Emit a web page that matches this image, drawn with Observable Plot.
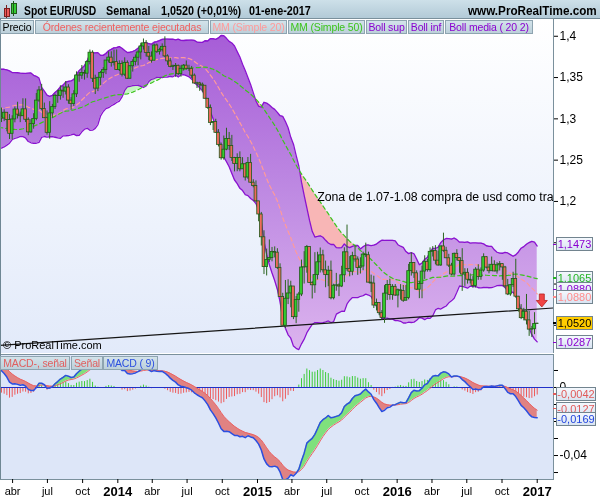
<!DOCTYPE html>
<html><head><meta charset="utf-8">
<script src="https://cdn.jsdelivr.net/npm/d3@7"></script>
<script src="https://cdn.jsdelivr.net/npm/@observablehq/plot@0.6"></script>
<style>
body{margin:0;background:#fff;font-family:"Liberation Sans",Arial,sans-serif;}
#wrap{position:relative;width:600px;height:500px;overflow:hidden;background:#fff;}
.abs{position:absolute;}
.lg{position:absolute;box-sizing:border-box;height:14px;line-height:12px;font-size:10.5px;letter-spacing:-0.15px;padding:0;white-space:nowrap;
 text-align:center;overflow:hidden;background:linear-gradient(#d3e3ea,#bcd0da);border:1px solid #8ea4b0;}
.vl{position:absolute;left:556px;height:12px;line-height:12px;font-size:11px;text-align:center;
 background:linear-gradient(#f4f8fd,#d9e4f2);border:1px solid #72848f;}
.vt{position:absolute;left:553px;width:4px;height:1.5px;}
.hd{position:absolute;top:4px;font-size:12px;font-weight:bold;line-height:14px;color:#000;white-space:nowrap;
 transform:scaleX(0.87);transform-origin:left center;}
</style></head>
<body><div id="wrap"></div>
<script>
// ---------- DATA ----------
// weekly closes before the visible window (from 2012-01-01), used only to seed indicators
const warmupCloses = [1.2718,1.2681,1.3035,1.3218,1.3159,
 1.3194,1.3154,1.3449,1.3225, 1.3118,1.3082,1.3272,1.3343,
 1.3138,1.3078,1.3227,1.3236,1.3081, 1.2916,1.2778,1.2516,1.2434,
 1.2631,1.2640,1.2573,1.2667, 1.2290,1.2247,1.2156,1.2317,1.2386,
 1.2287,1.2331,1.2516,1.2576, 1.2816,1.3124,1.2977,1.2856,1.3037,
 1.2953,1.3020,1.2943,1.2834, 1.2712,1.2749,1.2975,1.2986,
 1.2926,1.3163,1.3184,1.3216,1.3068, 1.3364,1.3316,1.3457,1.3635,
 1.3365,1.3364,1.3191,1.3017];
// visible weekly candles, from week of 2013-03-03 to week of 2017-01-01
const closes = [
 1.3004,1.3074,1.2987,1.2819,1.2993, 1.3113,1.3051,1.3032,1.3115, 1.2989,1.2836,1.2936,1.2999,
 1.3221,1.3344,1.3119,1.3008,1.2831, 1.3066,1.3142,1.3279,1.3277, 1.3341,1.3330,1.3379,1.3221,
 1.3180,1.3297,1.3525,1.3523,1.3555, 1.3547,1.3687,1.3801,1.3486, 1.3366,1.3497,1.3556,1.3590,
 1.3706,1.3741,1.3675,1.3687,1.3591,
 1.3665,1.3535,1.3678,1.3486, 1.3637,1.3690,1.3740,1.3804, 1.3876,1.3914,1.3798,1.3753,1.3704,
 1.3888,1.3812,1.3831,1.3872, 1.3756,1.3696,1.3630,1.3636, 1.3642,1.3541,1.3606,1.3644,1.3606,
 1.3605,1.3523,1.3428,1.3430, 1.3414,1.3401,1.3243,1.3131,1.2951, 1.2962,1.2831,1.2685,1.2523,
 1.2627,1.2757,1.2671,1.2525, 1.2454,1.2527,1.2389,1.2450,1.2290, 1.2466,1.2227,1.2188,1.2001,
 1.1842,1.1566,1.1205,1.1290, 1.1314,1.1389,1.1380,1.1196, 1.0844,1.0495,1.0822,1.0886,1.0970,
 1.0599,1.0808,1.0873,1.1200, 1.1203,1.1448,1.1014,1.0985,1.1108, 1.1263,1.1347,1.1166,1.1108,
 1.1161,1.0828,1.0980,1.0984, 1.0970,1.1106,1.1384,1.1183,1.1149, 1.1337,1.1297,1.1193,1.1212,
 1.1357,1.1349,1.1017,1.1006, 1.0740,1.0770,1.0647,1.0591,1.0884, 1.0989,1.0867,1.0966,1.0861,
 1.0925,1.0917,1.0798,1.0831,1.1156, 1.1254,1.1130,1.0932,1.1002, 1.1151,1.1269,1.1168,1.1390,
 1.1400,1.1283,1.1225,1.1455, 1.1403,1.1312,1.1223,1.1115,1.1366, 1.1314,1.1278,1.1115,1.1136,
 1.1052,1.1042,1.0977,1.1174,1.1086, 1.1163,1.1325,1.1199,1.1155, 1.1233,1.1153,1.1227,1.1241,
 1.1201,1.0972,1.0874,1.0986,1.1060, 1.0847,1.0695,1.0587,1.0664, 1.0560,1.0448,1.0453,1.0517,
 1.0520];
const highs = [
 1.3131,1.3110,1.3050,1.3052,1.3037, 1.3144,1.3201,1.3082,1.3243, 1.3242,1.3012,1.2990,1.3062,
 1.3307,1.3390,1.3417,1.3191,1.3096, 1.3208,1.3175,1.3298,1.3345, 1.3400,1.3393,1.3452,1.3413,
 1.3257,1.3341,1.3569,1.3559,1.3646, 1.3588,1.3705,1.3833,1.3824, 1.3529,1.3501,1.3573,1.3620,
 1.3706,1.3811,1.3812,1.3832,1.3834,
 1.3703,1.3701,1.3739,1.3702, 1.3643,1.3716,1.3774,1.3824, 1.3915,1.3967,1.3948,1.3877,1.3811,
 1.3906,1.3905,1.3855,1.3908, 1.3993,1.3775,1.3733,1.3650, 1.3670,1.3651,1.3643,1.3658,1.3701,
 1.3649,1.3635,1.3543,1.3444, 1.3443,1.3434,1.3389,1.3232,1.3168, 1.2966,1.2995,1.2870,1.2707,
 1.2792,1.2886,1.2835,1.2800, 1.2534,1.2577,1.2600,1.2530,1.2456, 1.2532,1.2570,1.2263,1.2249,
 1.1977,1.1867,1.1645,1.1423, 1.1534,1.1443,1.1450,1.1428, 1.1245,1.0888,1.1043,1.1052,1.1034,
 1.0967,1.0849,1.0899,1.1290, 1.1392,1.1467,1.1445,1.1030,1.1380, 1.1385,1.1436,1.1409,1.1278,
 1.1215,1.1278,1.0998,1.1129, 1.1002,1.1215,1.1439,1.1714,1.1332, 1.1385,1.1460,1.1329,1.1318,
 1.1387,1.1495,1.1386,1.1108, 1.1095,1.0818,1.0762,1.0679,1.0981, 1.1043,1.1060,1.0993,1.0994,
 1.0940,1.0993,1.0983,1.0983,1.1238, 1.1376,1.1258,1.1160,1.1031, 1.1217,1.1342,1.1298,1.1438,
 1.1453,1.1465,1.1398,1.1460, 1.1616,1.1445,1.1360,1.1251,1.1374, 1.1416,1.1298,1.1428,1.1186,
 1.1185,1.1121,1.1090,1.1198,1.1234, 1.1195,1.1366,1.1333,1.1239, 1.1327,1.1282,1.1258,1.1272,
 1.1246,1.1214,1.1056,1.0990,1.1143, 1.1300,1.0850,1.0751,1.0706, 1.0874,1.0670,1.0487,1.0653,
 1.0525];
const lows = [
 1.2955,1.2966,1.2843,1.2750,1.2745, 1.2952,1.2998,1.2954,1.3034, 1.2955,1.2796,1.2826,1.2875,
 1.2977,1.3200,1.3098,1.3005,1.2803, 1.2754,1.3007,1.3113,1.3188, 1.3226,1.3249,1.3289,1.3177,
 1.3105,1.3148,1.3258,1.3443,1.3478, 1.3469,1.3491,1.3653,1.3440, 1.3295,1.3330,1.3400,1.3490,
 1.3535,1.3676,1.3626,1.3641,1.3585,
 1.3573,1.3507,1.3512,1.3477, 1.3478,1.3566,1.3641,1.3643, 1.3714,1.3832,1.3749,1.3705,1.3674,
 1.3697,1.3791,1.3772,1.3810, 1.3741,1.3648,1.3618,1.3586, 1.3503,1.3522,1.3504,1.3580,1.3590,
 1.3573,1.3490,1.3421,1.3367, 1.3333,1.3322,1.3242,1.3116,1.2918, 1.2859,1.2823,1.2660,1.2500,
 1.2500,1.2614,1.2617,1.2484, 1.2358,1.2360,1.2359,1.2400,1.2247, 1.2268,1.2220,1.2165,1.1990,
 1.1754,1.1460,1.1115,1.1098, 1.1262,1.1269,1.1316,1.1177, 1.0841,1.0494,1.0462,1.0751,1.0712,
 1.0569,1.0520,1.0659,1.0848, 1.1000,1.1131,1.1014,1.0819,1.0887, 1.1049,1.1134,1.1134,1.0955,
 1.0968,1.0809,1.0808,1.0913, 1.0848,1.0957,1.1017,1.1155,1.1087, 1.1101,1.1265,1.1105,1.1121,
 1.1161,1.1320,1.1014,1.0897, 1.0704,1.0674,1.0617,1.0564,1.0524, 1.0800,1.0805,1.0803,1.0851,
 1.0711,1.0805,1.0778,1.0810,1.0809, 1.1096,1.1068,1.0924,1.0823, 1.0822,1.1056,1.1144,1.1144,
 1.1327,1.1233,1.1217,1.1214, 1.1385,1.1308,1.1200,1.1100,1.1097, 1.1280,1.1131,1.0911,1.0972,
 1.0999,1.1001,1.0951,1.0952,1.1045, 1.1046,1.1143,1.1183,1.1124, 1.1156,1.1148,1.1120,1.1157,
 1.1045,1.0951,1.0860,1.0852,1.0958, 1.0830,1.0660,1.0569,1.0554, 1.0505,1.0366,1.0352,1.0387,
 1.0515];
const trendLine = [{date:"2013-02-27", price:1.0258},{date:"2017-02-12", price:1.0710}];
const annotationText = ["Zona de 1.07-1.08 compra de usd como tra"];
const annotationAt = [{date:"2015-06-06", price:1.2048}];
const arrowAt = [{date:"2017-01-13", price:1.0801}];
const priceTicks = [1.2,1.25,1.3,1.35,1.4];
const priceMinorTicks = [1.05,1.1,1.15];
const macdTicks = [0,-0.04];
const macdMinorTicks = [0.01,-0.01,-0.02,-0.03,-0.05];
const monthNames = ["ene","feb","mar","abr","may","jun","jul","ago","sep","oct","nov","dic"];
const quarterTicks = ["2013-04-01","2013-07-01","2013-10-01","2014-04-01","2014-07-01","2014-10-01",
 "2015-04-01","2015-07-01","2015-10-01","2016-04-01","2016-07-01","2016-10-01"];
const yearTicks = ["2014-01-01","2015-01-01","2016-01-01","2017-01-01"];
const priceLabelNames = ["Boll sup","MM (Simple 50)","Boll media","MM (Simple 20)","Precio","Boll inf"];
const priceLabelValues = [1.1473,1.1065,1.0880,1.0880,1.0520,1.0287];
const macdLabelNames = ["MACD-, señal","Señal","MACD ( 9)"];
const macdLabelValues = [-0.0042,-0.0127,-0.0169];
const priceLegend = ["Precio","Órdenes recientemente ejecutadas","MM (Simple 20)","MM (Simple 50)","Boll sup","Boll inf","Boll media ( 20 2)"];
const macdLegend = ["MACD-, señal","Señal","MACD ( 9)"];
const headerTexts = ["Spot EUR/USD","Semanal","1,0520 (+0,01%)","01-ene-2017","www.ProRealTime.com"];

// ---------- INDICATORS ----------
const DAY = 864e5;
const t0 = Date.UTC(2012,0,1);
const all = warmupCloses.concat(closes);
const W = warmupCloses.length, N = all.length;
const dates = all.map((_, i) => new Date(t0 + i*7*DAY));
const win = (n,i) => all.slice(i-n+1, i+1);
const sma = (n,i) => d3.mean(win(n,i));
const sd = (n,i) => { const s = win(n,i), m = d3.mean(s); return Math.sqrt(d3.mean(s, v => (v-m)**2)); };
const ema = (arr,n) => { const a = 2/(n+1), o = []; arr.forEach((v,i) => o.push(i ? a*v + (1-a)*o[i-1] : v)); return o; };
const e12 = ema(all,12), e26 = ema(all,26);
const macd = all.map((_,i) => e12[i]-e26[i]);
const sig = ema(macd,9);
const ind = d3.range(W-1, N).map(i => {
  const m = sma(20,i), s = sd(20,i);
  return {date:dates[i], up:m+2*s, lo:m-2*s, m20:m, m50:sma(50,i), macd:macd[i], sig:sig[i], hist:macd[i]-sig[i]};
});
const candles = d3.range(W, N).map(i => {
  const k = i-W, o = all[i-1], c = all[i];
  return {date:dates[i], o, c, h:Math.max(highs[k],o,c), l:Math.min(lows[k],o,c)};
});
function cloud(rows, a, b){
  const out = []; let seg = 0;
  rows.forEach((r,i) => {
    const d = r[a]-r[b];
    if (i > 0){
      const p = rows[i-1], dp = p[a]-p[b];
      if ((dp >= 0) !== (d >= 0)){
        const t = dp/(dp-d);
        const x = new Date(+p.date + t*(r.date-p.date)), y = p[a] + t*(r[a]-p[a]);
        out.push({date:x, y1:y, y2:y, seg, pos:dp>=0}); seg++;
        out.push({date:x, y1:y, y2:y, seg, pos:d>=0});
      }
    }
    out.push({date:r.date, y1:r[a], y2:r[b], seg, pos:d>=0});
  });
  return out;
}
const maCloud = cloud(ind, "m20", "m50");
const macdCloud = cloud(ind, "macd", "sig");
const parse = s => new Date(s + "T00:00:00Z");
const xDomain = [new Date("2013-02-28T10:00:00Z"), new Date("2017-02-12T14:00:00Z")];
const comma = d => String(d).replace(".", ",");

// ---------- PLOTS ----------
const FONT = "'Liberation Sans', Arial, sans-serif";
const defs = () => {
  const g = d3.create("svg:defs");
  g.html(`<linearGradient id="bgP" gradientUnits="userSpaceOnUse" x1="0" y1="0" x2="0" y2="335">
      <stop offset="0" stop-color="#ffffff"/><stop offset="1" stop-color="#e2eafa"/></linearGradient>
    <linearGradient id="bandP" gradientUnits="userSpaceOnUse" x1="0" y1="0" x2="0" y2="335">
      <stop offset="0" stop-color="#a458d6"/><stop offset="0.5" stop-color="#bd88e2"/><stop offset="1" stop-color="#dcb4ee"/></linearGradient>`);
  return g.node();
};
const arrowSym = {draw(ctx){ ctx.moveTo(-2.5,-6.5); ctx.lineTo(2.5,-6.5); ctx.lineTo(2.5,0); ctx.lineTo(5.5,0);
  ctx.lineTo(0,6.5); ctx.lineTo(-5.5,0); ctx.lineTo(-2.5,0); ctx.closePath(); }};

const pricePlot = Plot.plot({
  width:600, height:335, marginTop:0, marginBottom:0, marginLeft:0, marginRight:47,
  style:{fontFamily:FONT, fontSize:"12px", background:"transparent", color:"#000"},
  x:{type:"utc", domain:xDomain, axis:null},
  y:{domain:[1.0159,1.4215], axis:null},
  color:{type:"identity"},
  marks:[
    defs,
    Plot.frame({fill:"url(#bgP)"}),
    Plot.areaY(maCloud, {x:"date", y1:"y1", y2:"y2", z:"seg", fill:d => d.pos ? "#c4f6c0" : "#f8b6b6", clip:true}),
    Plot.areaY(ind, {x:"date", y1:"lo", y2:"up", fill:"url(#bandP)", mixBlendMode:"multiply", clip:true}),
    Plot.lineY(ind, {x:"date", y:"up", stroke:"#8a12d0", strokeWidth:1.3, clip:true}),
    Plot.lineY(ind, {x:"date", y:"lo", stroke:"#8a12d0", strokeWidth:1.3, clip:true}),
    Plot.lineY(ind, {x:"date", y:"m20", stroke:"#ff9a9a", strokeWidth:1.2, strokeDasharray:"4,3", clip:true}),
    Plot.lineY(ind, {x:"date", y:"m50", stroke:"#3cc41c", strokeWidth:1.2, strokeDasharray:"4,3", clip:true}),
    Plot.line(trendLine, {x:d => parse(d.date), y:"price", stroke:"#151515", strokeWidth:1.2, clip:true}),
    Plot.ruleX(candles, {x:"date", y1:"l", y2:"h", stroke:"#2b6420", strokeWidth:1}),
    Plot.rect(candles, {x1:d => new Date(+d.date - 3.6*DAY), x2:d => new Date(+d.date + 3.6*DAY), y1:"o", y2:"c",
      fill:d => d.c >= d.o ? "#34cc2e" : "#f06a5c", stroke:"#22591a", strokeWidth:0.8}),
    Plot.text(annotationAt, {x:d => parse(d.date), y:"price", text:(d,i) => annotationText[i], textAnchor:"start",
      fontSize:12.3, fill:"#000", clip:true}),
    Plot.dot(arrowAt, {x:d => parse(d.date), y:"price", symbol:arrowSym, r:6, fill:"#f04545", stroke:"#b82020", strokeWidth:0.8}),
    Plot.frame({stroke:"#7a909c"}),
    Plot.axisY({anchor:"right", ticks:priceTicks, tickFormat:comma, tickSize:4, tickPadding:2, fontSize:12}),
    Plot.axisY({anchor:"right", ticks:priceMinorTicks, tickFormat:() => "", tickSize:4})
  ]
});

const macdPlot = Plot.plot({
  width:600, height:146, marginTop:0, marginBottom:21, marginLeft:0, marginRight:47,
  style:{fontFamily:FONT, fontSize:"11px", background:"transparent", color:"#000"},
  x:{type:"utc", domain:xDomain, axis:null},
  y:{domain:[-0.0541,0.0194], axis:null},
  color:{type:"identity"},
  marks:[
    Plot.frame({fill:"#dde6f8"}),
    Plot.ruleX(ind, {x:"date", y1:0, y2:"hist", stroke:d => d.hist >= 0 ? "#3fcc3a" : "#ee5a5a", strokeWidth:1, clip:true}),
    Plot.ruleY([0], {stroke:"#2030c8", strokeWidth:1.2}),
    Plot.areaY(macdCloud, {x:"date", y1:"y1", y2:"y2", z:"seg", fill:d => d.pos ? "#7fe07c" : "#e08282", clip:true}),
    Plot.lineY(ind, {x:"date", y:"sig", stroke:"#ec6060", strokeWidth:1, clip:true}),
    Plot.lineY(ind, {x:"date", y:"macd", stroke:"#2c4fe0", strokeWidth:1.5, clip:true}),
    Plot.frame({stroke:"#7a909c"}),
    Plot.axisY({anchor:"right", ticks:macdTicks, tickFormat:d => d === 0 ? "0" : comma(d), tickSize:4, tickPadding:2, fontSize:12}),
    Plot.axisY({anchor:"right", ticks:macdMinorTicks, tickFormat:() => "", tickSize:4}),
    Plot.axisX({ticks:quarterTicks.map(parse), tickFormat:d => monthNames[d.getUTCMonth()], tickSize:4, tickPadding:4, fontSize:11}),
    Plot.axisX({ticks:yearTicks.map(parse), tickFormat:d => String(d.getUTCFullYear()), tickSize:4, tickPadding:3, fontSize:13, fontWeight:"bold"})
  ]
});

// ---------- LAYOUT ----------
const wrap = document.getElementById("wrap");
function div(css, html, cls){ const d = document.createElement("div"); d.className = cls || "abs"; d.style.cssText = css; if (html != null) d.innerHTML = html; wrap.appendChild(d); return d; }

// header bar
div("left:0;top:0;width:600px;height:18px;background:linear-gradient(#cde0e9,#b2cad7);border-bottom:1px solid #6f8794;");
div("left:4px;top:8px;width:4px;height:7px;background:#ee5a5a;border:1px solid #7a2020;");
div("left:5.5px;top:5px;width:1px;height:13px;background:#7a2020;");
div("left:11px;top:3px;width:4px;height:9px;background:#33cc33;border:1px solid #1f5a1a;");
div("left:12.5px;top:1px;width:1px;height:15px;background:#1f5a1a;");
const hdLeft = [24,106,161,249,468];
const hdScale = [0.86,0.9,0.9,0.9,0.975];
headerTexts.forEach((t,i) => div(`left:${hdLeft[i]}px;transform:scaleX(${hdScale[i]});`, t, "hd"));

// plots
const pWrap = div("left:0;top:18px;"); pWrap.appendChild(pricePlot);
const mWrap = div("left:0;top:354px;"); mWrap.appendChild(macdPlot);
div("left:0;top:18px;width:1px;height:461px;background:#6f8794;");

// legend boxes
const legColors = ["#000","#f06060","#ff9a9a","#3cc41c","#8a00d0","#8a00d0","#8a00d0"];
const legLeft = [0,35,210,288,366,408,445];
const legWidth = [34,174,77,77,41,36,88];
priceLegend.forEach((t,i) => div(`left:${legLeft[i]}px;width:${legWidth[i]}px;top:20px;color:${legColors[i]};`, t, "lg"));
const mLegColors = ["#e06060","#e06060","#2c4fe0"];
const mLegLeft = [0,71,103];
const mLegWidth = [70,32,55];
macdLegend.forEach((t,i) => div(`left:${mLegLeft[i]}px;width:${mLegWidth[i]}px;top:356px;color:${mLegColors[i]};`, t, "lg"));

// copyright
div("left:3px;top:339px;font-size:11px;color:#000;white-space:nowrap;", "© ProRealTime.com");

// value labels on the right axis
const yP = pricePlot.scale("y");
const pStyle = [
  {c:"#8a00d0", n:0}, {c:"#22b422", n:0}, {c:"#8a00d0", n:-4}, {c:"#ff8c8c", n:3.5}, {c:"#000", n:0, bg:"#ffcc00"}, {c:"#8a00d0", n:0}
];
priceLabelValues.forEach((v,i) => {
  const s = pStyle[i], y = 18 + yP.apply(v) + s.n;
  div(`top:${y-0.75}px;background:${s.c};`, "", "vt");
  div(`top:${y-7}px;width:35px;color:${s.c};${s.bg ? "background:" + s.bg + ";" : ""}`, comma(v.toFixed(4)), "vl");
});
const yM = macdPlot.scale("y");
const mStyle = [{c:"#e05a5a", n:0}, {c:"#e05a5a", n:0}, {c:"#2244dd", n:3}];
macdLabelValues.forEach((v,i) => {
  const s = mStyle[i], y = 354 + yM.apply(v) + s.n;
  div(`top:${y-0.75}px;background:${s.c};`, "", "vt");
  div(`top:${y-7}px;width:38px;color:${s.c};`, comma(v.toFixed(4)), "vl");
});
</script>
</body></html>
